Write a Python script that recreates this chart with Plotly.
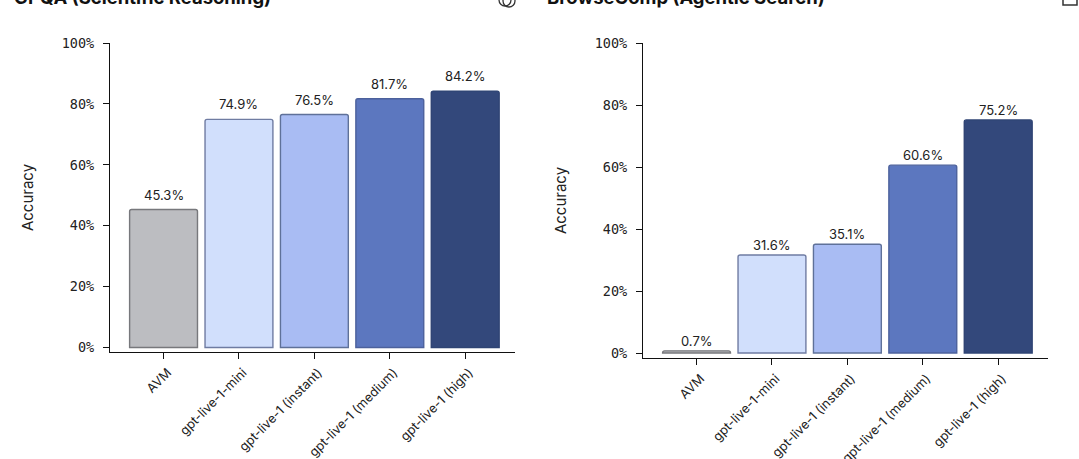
import plotly.graph_objects as go

W, H = 1079, 459
# the titles run off the top of the page, so the figure starts above it
TOP = 12

categories = ["AVM", "gpt-live-1-mini", "gpt-live-1 (instant)", "gpt-live-1 (medium)", "gpt-live-1 (high)"]
gpqa_values = [45.3, 74.9, 76.5, 81.7, 84.2]
browse_values = [0.7, 31.6, 35.1, 60.6, 75.2]
y_ticks = [0, 20, 40, 60, 80, 100]
y_tick_labels = ["0%", "20%", "40%", "60%", "80%", "100%"]

fills = ["#bcbdc1", "#d1dffc", "#a9bcf3", "#5c77bf", "#33487b"]
edges = ["#77787c", "#6f7ca2", "#5f7199", "#4c619c", "#2f4474"]


def px_x(p):
    return p / W


def px_y(p):
    return 1 - (p + TOP) / (H + TOP)


fig = go.Figure()

for values, xa, ya in [(gpqa_values, "x", "y"), (browse_values, "x2", "y2")]:
    fig.add_trace(go.Bar(
        x=categories, y=values, xaxis=xa, yaxis=ya, width=0.9,
        marker=dict(color=fills, line=dict(color=edges, width=1.4), cornerradius=2),
        showlegend=False, hoverinfo="skip",
    ))

annotations = []
for values, xa, ya, shift in [(gpqa_values, "x", "y", 15), (browse_values, "x2", "y2", 10)]:
    for c, v in zip(categories, values):
        annotations.append(dict(
            x=c, y=v, xref=xa, yref=ya, text=f"{v}%", showarrow=False, yshift=shift,
            font=dict(family="Inter", size=13, color="#222222"),
        ))

for label, left in [("GPQA (Scientific Reasoning)", 14), ("BrowseComp (Agentic Search)", 547)]:
    annotations.append(dict(
        x=px_x(left), y=px_y(-3), xref="paper", yref="paper", xanchor="left", yanchor="middle",
        xshift=-2, text=f"<b>{label}</b>", showarrow=False,
        font=dict(family="Inter", size=18.5, color="#111111"),
    ))

axis_common = dict(showline=True, linecolor="#111111", linewidth=1.3, ticks="outside",
                   tickcolor="#111111", ticklen=6, tickwidth=1.2, showgrid=False, zeroline=False,
                   automargin=False)
x_font = dict(family="Inter", size=12.8, color="#222222")
y_font = dict(family="DejaVu Sans Mono", size=13.5, color="#222222")
title_font = dict(family="Inter", size=15, color="#222222")

fig.update_layout(
    width=W, height=H + TOP, margin=dict(l=0, r=0, t=0, b=0),
    paper_bgcolor="white", plot_bgcolor="white", font=dict(family="Inter"),
    annotations=annotations,
    xaxis=dict(domain=[px_x(110), px_x(515)], range=[-0.71, 4.66], anchor="y",
               tickangle=-45, tickfont=x_font, ticklabelstandoff=1, ticklabelshift=4, **axis_common),
    yaxis=dict(domain=[px_y(352), px_y(43)], range=[-1.5, 100], anchor="x",
               tickvals=y_ticks, ticktext=y_tick_labels, tickfont=y_font, ticklabelstandoff=6,
               title=dict(text="Accuracy", font=title_font, standoff=24), **axis_common),
    xaxis2=dict(domain=[px_x(643), px_x(1048)], range=[-0.71, 4.66], anchor="y2",
                tickangle=-45, tickfont=x_font, ticklabelstandoff=1, ticklabelshift=4, **axis_common),
    yaxis2=dict(domain=[px_y(358), px_y(43)], range=[-1.6, 100], anchor="x2",
                tickvals=y_ticks, ticktext=y_tick_labels, tickfont=y_font, ticklabelstandoff=6,
                title=dict(text="Accuracy", font=title_font, standoff=24), **axis_common),
    shapes=[
        dict(type="circle", xref="paper", yref="paper", x0=px_x(499), x1=px_x(511), y0=px_y(6), y1=px_y(-6),
             line=dict(color="#333333", width=1.3)),
        dict(type="circle", xref="paper", yref="paper", x0=px_x(503), x1=px_x(515), y0=px_y(7), y1=px_y(-5),
             line=dict(color="#333333", width=1.3)),
        dict(type="rect", xref="paper", yref="paper", x0=px_x(1063), x1=px_x(1077), y0=px_y(5), y1=px_y(-9),
             line=dict(color="#333333", width=1.5)),
    ],
)

fig.write_html("out.html", config={"displayModeBar": False},
               post_script=f"document.body.style.margin='-{TOP}px 0 0 0'")
